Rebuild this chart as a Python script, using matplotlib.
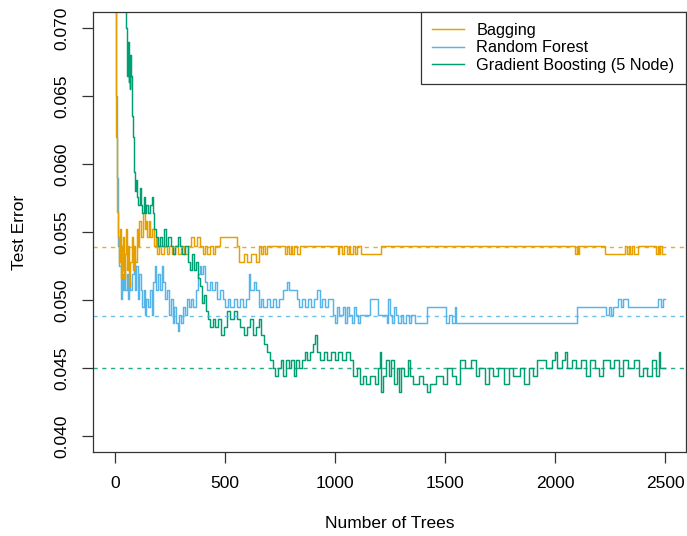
import matplotlib
matplotlib.use("Agg")
import matplotlib.pyplot as plt

# step-function knots: (number of trees, test error)
BAG_TREES = [1, 4, 6, 8, 10, 14, 18, 22, 26, 30, 34, 38, 42, 46, 50, 55, 60, 65, 70, 75,
             80, 86, 92, 98, 104, 110, 118, 126, 134, 140, 146, 154, 160, 168, 176, 184,
             192, 200, 210, 222, 234, 246, 258, 272, 288, 300, 315, 330, 345, 360, 372,
             384, 400, 410, 420, 430, 445, 455, 478, 552, 565, 585, 600, 620, 640, 652,
             665, 672, 680, 690, 772, 780, 790, 800, 806, 815, 825, 840, 1013, 1020,
             1030, 1040, 1053, 1062, 1070, 1080, 1090, 1099, 1118, 1209, 2092, 2098,
             2104, 2110, 2115, 2228, 2319, 2326, 2334, 2342, 2350, 2360, 2378, 2459,
             2466, 2472, 2478, 2484]
BAG_ERR = [0.0720, 0.0684, 0.0620, 0.0581, 0.0565, 0.0546, 0.0528, 0.0552, 0.0516, 0.0540,
           0.0522, 0.0546, 0.0516, 0.0534, 0.0552, 0.0522, 0.0540, 0.0510, 0.0528, 0.0546,
           0.0522, 0.0540, 0.0528, 0.0552, 0.0540, 0.0558, 0.0546, 0.0564, 0.0552, 0.0558,
           0.0546, 0.0558, 0.0546, 0.0552, 0.0540, 0.0546, 0.0534, 0.0540, 0.0534, 0.0540,
           0.0534, 0.0540, 0.0534, 0.0540, 0.0534, 0.0540, 0.0534, 0.0540, 0.0546, 0.0540,
           0.0546, 0.0540, 0.0534, 0.0540, 0.0534, 0.0540, 0.0534, 0.0540, 0.0546, 0.0540,
           0.0528, 0.0534, 0.0528, 0.0534, 0.0528, 0.0540, 0.0534, 0.0540, 0.0534, 0.0540,
           0.0534, 0.0540, 0.0534, 0.0540, 0.0534, 0.0540, 0.0534, 0.0540, 0.0534, 0.0540,
           0.0534, 0.0540, 0.0534, 0.0540, 0.0534, 0.0540, 0.0534, 0.0540, 0.0534, 0.0540,
           0.0534, 0.0540, 0.0534, 0.0540, 0.0540, 0.0534, 0.0540, 0.0534, 0.0540, 0.0534,
           0.0540, 0.0534, 0.0540, 0.0534, 0.0540, 0.0534, 0.0540, 0.0534]

RF_TREES = [1, 5, 8, 11, 15, 20, 25, 30, 35, 40, 46, 52, 58, 64, 70, 76, 84, 90, 96, 102,
            108, 116, 124, 130, 136, 142, 150, 158, 166, 172, 180, 188, 196, 204, 212, 220,
            228, 238, 246, 254, 262, 270, 278, 286, 292, 300, 308, 318, 326, 336, 346, 356,
            366, 376, 384, 392, 400, 410, 420, 430, 440, 452, 462, 476, 490, 500, 512, 524,
            540, 552, 566, 580, 594, 608, 612, 630, 640, 652, 662, 674, 690, 702, 716, 730,
            745, 764, 780, 790, 826, 838, 850, 862, 876, 890, 904, 920, 930, 942, 956, 970,
            990, 1000, 1008, 1020, 1035, 1045, 1055, 1065, 1075, 1085, 1095, 1105, 1115,
            1158, 1195, 1234, 1242, 1248, 1258, 1270, 1276, 1288, 1298, 1310, 1322, 1334,
            1346, 1361, 1420, 1506, 1520, 1530, 1545, 1550, 2100, 2230, 2245, 2252, 2262,
            2285, 2300, 2310, 2330, 2470, 2480, 2490]
RF_ERR = [0.0720, 0.0650, 0.0590, 0.0560, 0.0540, 0.0525, 0.0501, 0.0519, 0.0507, 0.0525,
          0.0507, 0.0519, 0.0501, 0.0513, 0.0507, 0.0519, 0.0531, 0.0507, 0.0525, 0.0501,
          0.0519, 0.0507, 0.0495, 0.0507, 0.0489, 0.0501, 0.0495, 0.0507, 0.0489, 0.0513,
          0.0525, 0.0507, 0.0519, 0.0507, 0.0525, 0.0513, 0.0501, 0.0507, 0.0489, 0.0501,
          0.0483, 0.0495, 0.0483, 0.0477, 0.0489, 0.0483, 0.0495, 0.0489, 0.0501, 0.0495,
          0.0501, 0.0495, 0.0507, 0.0519, 0.0525, 0.0519, 0.0525, 0.0513, 0.0507, 0.0513,
          0.0507, 0.0513, 0.0501, 0.0507, 0.0501, 0.0495, 0.0501, 0.0495, 0.0501, 0.0495,
          0.0501, 0.0495, 0.0501, 0.0519, 0.0507, 0.0513, 0.0507, 0.0495, 0.0501, 0.0495,
          0.0501, 0.0495, 0.0501, 0.0495, 0.0501, 0.0507, 0.0513, 0.0507, 0.0501, 0.0495,
          0.0501, 0.0495, 0.0501, 0.0495, 0.0501, 0.0507, 0.0495, 0.0501, 0.0495, 0.0501,
          0.0489, 0.0483, 0.0495, 0.0489, 0.0495, 0.0483, 0.0495, 0.0489, 0.0483, 0.0495,
          0.0489, 0.0483, 0.0489, 0.0501, 0.0489, 0.0483, 0.0501, 0.0489, 0.0483, 0.0495,
          0.0489, 0.0483, 0.0489, 0.0483, 0.0489, 0.0483, 0.0489, 0.0483, 0.0495, 0.0483,
          0.0489, 0.0483, 0.0495, 0.0483, 0.0495, 0.0489, 0.0495, 0.0489, 0.0495, 0.0501,
          0.0495, 0.0501, 0.0495, 0.0501, 0.0495, 0.0501]

GB_TREES = [1, 30, 48, 52, 55, 58, 61, 64, 67, 70, 73, 76, 79, 82, 85, 88, 92, 96, 100,
            106, 112, 118, 124, 130, 136, 142, 150, 158, 166, 172, 178, 186, 194, 202, 212,
            222, 230, 240, 252, 262, 272, 284, 294, 306, 318, 330, 340, 350, 358, 368, 378,
            386, 396, 404, 412, 422, 432, 444, 456, 470, 482, 494, 508, 522, 540, 556, 570,
            585, 598, 612, 626, 640, 652, 664, 676, 690, 704, 716, 726, 740, 752, 764, 776,
            790, 800, 812, 824, 836, 850, 862, 874, 886, 898, 910, 920, 932, 950, 962, 980,
            1000, 1012, 1030, 1050, 1068, 1082, 1098, 1112, 1126, 1140, 1160, 1180, 1196,
            1204, 1210, 1220, 1232, 1244, 1256, 1268, 1280, 1290, 1300, 1315, 1330, 1342,
            1352, 1380, 1400, 1420, 1430, 1460, 1490, 1510, 1530, 1550, 1566, 1590, 1620,
            1640, 1656, 1680, 1700, 1720, 1740, 1770, 1790, 1810, 1840, 1860, 1880, 1900,
            1916, 1960, 1987, 2000, 2010, 2030, 2045, 2055, 2075, 2096, 2120, 2140, 2160,
            2180, 2200, 2220, 2250, 2270, 2290, 2310, 2330, 2360, 2380, 2400, 2420, 2440,
            2460, 2472, 2478]
GB_ERR = [0.0800, 0.0740, 0.0700, 0.0680, 0.0665, 0.0690, 0.0660, 0.0675, 0.0655, 0.0680,
          0.0665, 0.0650, 0.0635, 0.0620, 0.0605, 0.0594, 0.0580, 0.0588, 0.0576, 0.0570,
          0.0582, 0.0570, 0.0564, 0.0576, 0.0564, 0.0570, 0.0564, 0.0570, 0.0576, 0.0564,
          0.0552, 0.0546, 0.0540, 0.0546, 0.0540, 0.0552, 0.0540, 0.0546, 0.0540, 0.0534,
          0.0540, 0.0546, 0.0540, 0.0534, 0.0540, 0.0528, 0.0522, 0.0534, 0.0522, 0.0528,
          0.0516, 0.0510, 0.0498, 0.0504, 0.0492, 0.0486, 0.0480, 0.0486, 0.0480, 0.0486,
          0.0474, 0.0480, 0.0492, 0.0486, 0.0492, 0.0486, 0.0480, 0.0474, 0.0480, 0.0486,
          0.0474, 0.0480, 0.0486, 0.0474, 0.0468, 0.0462, 0.0456, 0.0450, 0.0444, 0.0450,
          0.0456, 0.0444, 0.0456, 0.0450, 0.0456, 0.0444, 0.0456, 0.0450, 0.0456, 0.0462,
          0.0456, 0.0462, 0.0468, 0.0474, 0.0462, 0.0456, 0.0462, 0.0456, 0.0462, 0.0456,
          0.0462, 0.0456, 0.0462, 0.0456, 0.0444, 0.0450, 0.0438, 0.0444, 0.0438, 0.0444,
          0.0438, 0.0450, 0.0462, 0.0432, 0.0444, 0.0456, 0.0444, 0.0456, 0.0438, 0.0450,
          0.0432, 0.0450, 0.0444, 0.0456, 0.0444, 0.0438, 0.0444, 0.0438, 0.0432, 0.0438,
          0.0444, 0.0438, 0.0450, 0.0444, 0.0438, 0.0456, 0.0450, 0.0456, 0.0444, 0.0450,
          0.0438, 0.0450, 0.0444, 0.0450, 0.0438, 0.0450, 0.0444, 0.0450, 0.0438, 0.0450,
          0.0444, 0.0456, 0.0450, 0.0456, 0.0462, 0.0450, 0.0456, 0.0462, 0.0450, 0.0456,
          0.0450, 0.0456, 0.0444, 0.0456, 0.0450, 0.0444, 0.0456, 0.0450, 0.0456, 0.0444,
          0.0456, 0.0450, 0.0456, 0.0444, 0.0450, 0.0444, 0.0456, 0.0444, 0.0462, 0.0450]

# horizontal reference levels (dashed)
LEVELS = {"Bagging": 0.0539, "Random Forest": 0.0488, "Gradient Boosting (5 Node)": 0.0450}
COLORS = {"Bagging": "#E69F00", "Random Forest": "#56B4E9",
          "Gradient Boosting (5 Node)": "#009E73"}
N_TREES = 2500

plt.rcParams["font.family"] = ["Liberation Sans", "DejaVu Sans"]

fig = plt.figure(figsize=(6.87, 5.36), dpi=100)
ax = fig.add_axes([93.3 / 687, 1 - 452.3 / 536, (686 - 93.3) / 687, (452.3 - 11.7) / 536])

series = [("Random Forest", RF_TREES, RF_ERR),
          ("Bagging", BAG_TREES, BAG_ERR),
          ("Gradient Boosting (5 Node)", GB_TREES, GB_ERR)]
lines = {}
for name, trees, err in series:
    # extend the last step out to the final tree
    ln, = ax.step(trees + [N_TREES], err + [err[-1]], where="post",
                  color=COLORS[name], lw=1.05, label=name)
    lines[name] = ln

for name, lev in LEVELS.items():
    ax.axhline(lev, color=COLORS[name], lw=1.0, dashes=(3, 3.3), alpha=0.85)

ax.set_xlim(-99, 2595)
ax.set_ylim(0.0388, 0.0712)
ax.set_xticks([0, 500, 1000, 1500, 2000, 2500])
ax.set_yticks([0.040, 0.045, 0.050, 0.055, 0.060, 0.065, 0.070])
ax.set_yticklabels([f"{v:.3f}" for v in ax.get_yticks()], rotation=90, va="center")
ax.tick_params(direction="out", length=8, width=0.9, color="#333333",
               labelsize=12.5, pad=9)
for sp in ax.spines.values():
    sp.set_color("#333333")
    sp.set_linewidth(0.9)

fig.text(20 / 687, 1 - 232 / 536, "Test Error", rotation=90, ha="center", va="center",
         fontsize=12.5)
fig.text((115 + 665) / 2 / 687, 1 - 524 / 536, "Number of Trees", ha="center",
         va="center", fontsize=12.5)

order = ["Bagging", "Random Forest", "Gradient Boosting (5 Node)"]
leg = ax.legend([lines[k] for k in order], order, loc="upper right",
                bbox_to_anchor=(1, 1), borderaxespad=0, fancybox=False,
                edgecolor="#333333", framealpha=1, fontsize=11.7, handlelength=2.0,
                handletextpad=0.74, labelspacing=0.14, borderpad=0.7)
leg.get_frame().set_linewidth(0.9)

fig.savefig("out.png", dpi=100)
